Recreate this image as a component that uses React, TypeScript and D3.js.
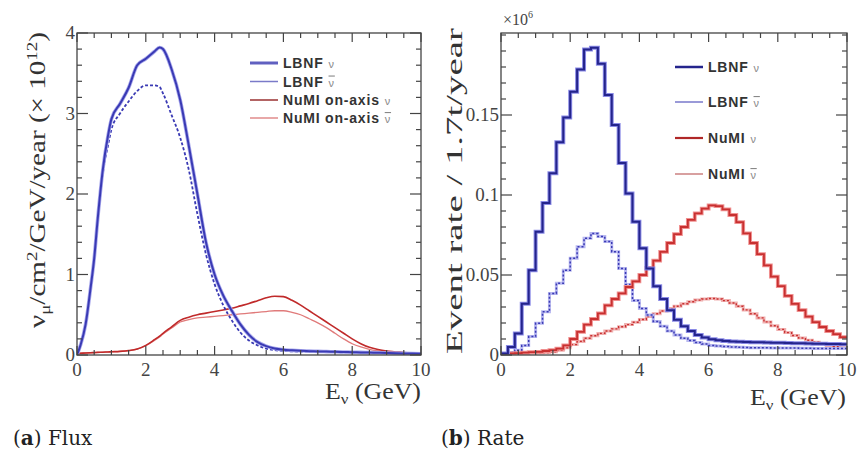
import React from "react";
import * as d3 from "d3";

// ---------- Data: (a) Flux ----------
const FLUX_E = [0, 0.1, 0.25, 0.4, 0.5, 0.6, 0.75, 0.9, 1.0, 1.25, 1.5, 1.75, 2.0, 2.25, 2.4, 2.5, 2.75, 3.0, 3.25, 3.5, 3.75, 4.0, 4.25, 4.5, 4.75, 5.0, 5.25, 5.5, 5.75, 6.0, 6.25, 6.5, 6.75, 7.0, 7.25, 7.5, 7.75, 8.0, 8.25, 8.5, 8.75, 9.0, 9.5, 10];
const FLUX_LBNF_NU = [0, 0.12, 0.38, 0.85, 1.2, 1.68, 2.3, 2.72, 2.93, 3.12, 3.32, 3.6, 3.68, 3.77, 3.82, 3.8, 3.55, 3.17, 2.6, 2.0, 1.4, 1.0, 0.74, 0.55, 0.38, 0.25, 0.16, 0.11, 0.08, 0.065, 0.058, 0.052, 0.048, 0.045, 0.042, 0.04, 0.037, 0.035, 0.032, 0.03, 0.028, 0.025, 0.02, 0.015];
const FLUX_LBNF_NUBAR = [0, 0.12, 0.38, 0.85, 1.2, 1.65, 2.25, 2.6, 2.8, 3.0, 3.15, 3.28, 3.35, 3.35, 3.33, 3.25, 2.98, 2.7, 2.3, 1.75, 1.25, 0.88, 0.62, 0.43, 0.28, 0.18, 0.12, 0.08, 0.06, 0.05, 0.045, 0.042, 0.04, 0.038, 0.036, 0.035, 0.034, 0.033, 0.031, 0.03, 0.028, 0.026, 0.022, 0.018];
const FLUX_NUMI_NU = [0.02, 0.022, 0.025, 0.028, 0.03, 0.032, 0.035, 0.038, 0.04, 0.045, 0.055, 0.075, 0.12, 0.19, 0.235, 0.27, 0.35, 0.43, 0.47, 0.5, 0.52, 0.54, 0.56, 0.58, 0.61, 0.64, 0.675, 0.71, 0.73, 0.725, 0.68, 0.62, 0.55, 0.48, 0.41, 0.34, 0.27, 0.2, 0.14, 0.095, 0.068, 0.05, 0.032, 0.02];
const FLUX_NUMI_NUBAR = [0.02, 0.022, 0.025, 0.028, 0.03, 0.032, 0.035, 0.038, 0.04, 0.045, 0.053, 0.072, 0.115, 0.18, 0.225, 0.26, 0.335, 0.41, 0.44, 0.46, 0.47, 0.48, 0.49, 0.5, 0.51, 0.52, 0.53, 0.54, 0.55, 0.55, 0.53, 0.5, 0.45, 0.4, 0.34, 0.27, 0.2, 0.14, 0.1, 0.07, 0.05, 0.04, 0.03, 0.02];

// ---------- Data: (b) Rate (50 bins of 0.2 GeV, units of 10^6) ----------
const RATE_BIN_WIDTH = 0.2;
const RATE_LBNF_NU = [0.001, 0.005, 0.0135, 0.032, 0.053, 0.077, 0.095, 0.1136, 0.133, 0.1485, 0.1646, 0.1785, 0.191, 0.192, 0.182, 0.1625, 0.1438, 0.12, 0.101, 0.0833, 0.0667, 0.054, 0.043, 0.035, 0.028, 0.022, 0.018, 0.015, 0.0125, 0.011, 0.0098, 0.0092, 0.0088, 0.0085, 0.0083, 0.0081, 0.008, 0.0079, 0.0078, 0.0077, 0.0076, 0.0075, 0.0074, 0.0073, 0.0072, 0.0071, 0.007, 0.0069, 0.0068, 0.0067];
const RATE_LBNF_NUBAR = [0.0005, 0.0015, 0.003, 0.006, 0.0115, 0.0198, 0.027, 0.0385, 0.0448, 0.053, 0.0604, 0.0677, 0.073, 0.076, 0.074, 0.071, 0.0646, 0.054, 0.044, 0.034, 0.029, 0.025, 0.021, 0.018, 0.015, 0.0125, 0.0105, 0.009, 0.0078, 0.0068, 0.006, 0.0056, 0.0053, 0.005, 0.0048, 0.0047, 0.0046, 0.0045, 0.0045, 0.0044, 0.0044, 0.0043, 0.0043, 0.0042, 0.0042, 0.0041, 0.0041, 0.004, 0.004, 0.004];
const RATE_NUMI_NU = [0.0005, 0.001, 0.0012, 0.0015, 0.0018, 0.002, 0.0025, 0.003, 0.004, 0.006, 0.01, 0.0145, 0.019, 0.0225, 0.026, 0.031, 0.035, 0.0385, 0.0425, 0.046, 0.05, 0.0545, 0.059, 0.0645, 0.07, 0.0755, 0.08, 0.0845, 0.0885, 0.0915, 0.0935, 0.093, 0.091, 0.0875, 0.083, 0.076, 0.07, 0.063, 0.056, 0.049, 0.043, 0.037, 0.032, 0.028, 0.024, 0.0205, 0.0175, 0.015, 0.013, 0.0112];
const RATE_NUMI_NUBAR = [0.0003, 0.0006, 0.0008, 0.001, 0.0012, 0.0014, 0.0016, 0.002, 0.003, 0.0045, 0.0065, 0.0085, 0.0105, 0.012, 0.0135, 0.015, 0.0163, 0.0177, 0.019, 0.0205, 0.0222, 0.024, 0.0258, 0.0275, 0.029, 0.0305, 0.032, 0.0333, 0.0343, 0.035, 0.0353, 0.035, 0.034, 0.0325, 0.0305, 0.0282, 0.0258, 0.0232, 0.0207, 0.0183, 0.016, 0.014, 0.0122, 0.0106, 0.0092, 0.008, 0.007, 0.006, 0.0052, 0.0045];

// ---------- Ticks ----------
const X_TICKS = [0, 2, 4, 6, 8, 10];
const FLUX_Y_TICKS = [0, 1, 2, 3, 4];
const RATE_Y_TICKS = [0, 0.05, 0.1, 0.15];
const RATE_Y_LABELS = ["0", "0.05", "0.1", "0.15"];

const SERIF = "'Liberation Serif', 'Times New Roman', serif";
const SANS = "'Liberation Sans', Arial, sans-serif";

type FrameProps = {
  x: d3.ScaleLinear<number, number>;
  y: d3.ScaleLinear<number, number>;
  xMinorStep: number;
  yMinorStep: number;
  yMax: number;
  yTicks: number[];
  yLabels: string[];
};

function Frame({ x, y, xMinorStep, yMinorStep, yMax, yTicks, yLabels }: FrameProps) {
  const [x0, x1] = x.range();
  const [y0, y1] = y.range(); // y0 bottom, y1 top
  const xMinor: number[] = [];
  for (let v = 0; v <= 10 + 1e-9; v += xMinorStep) xMinor.push(v);
  const yMinor: number[] = [];
  for (let v = 0; v <= yMax + 1e-9; v += yMinorStep) yMinor.push(v);
  const isMajorX = (v: number) => X_TICKS.some((t) => Math.abs(t - v) < 1e-6);
  const isMajorY = (v: number) => yTicks.some((t) => Math.abs(t - v) < 1e-6);
  const stroke = "#444";
  return (
    <g>
      <rect x={x0} y={y1} width={x1 - x0} height={y0 - y1} fill="none" stroke={stroke} strokeWidth={1.3} />
      {xMinor.map((v, i) => {
        const len = isMajorX(v) ? 9 : 5;
        const px = x(v);
        return (
          <g key={"xt" + i}>
            <line x1={px} x2={px} y1={y0} y2={y0 - len} stroke={stroke} strokeWidth={1.2} />
            <line x1={px} x2={px} y1={y1} y2={y1 + len} stroke={stroke} strokeWidth={1.2} />
          </g>
        );
      })}
      {yMinor.map((v, i) => {
        const len = isMajorY(v) ? 11 : 5;
        const py = y(v);
        return (
          <g key={"yt" + i}>
            <line x1={x0} x2={x0 + len} y1={py} y2={py} stroke={stroke} strokeWidth={1.2} />
            <line x1={x1} x2={x1 - len} y1={py} y2={py} stroke={stroke} strokeWidth={1.2} />
          </g>
        );
      })}
      {X_TICKS.map((t) => (
        <text key={"xl" + t} x={x(t)} y={y0 + 21} textAnchor="middle" fontFamily={SERIF} fontSize={19} fill="#444">
          {t}
        </text>
      ))}
      {yTicks.map((t, i) => (
        <text key={"yl" + t} x={x0 - 2} y={y(t) + 6} textAnchor="end" fontFamily={SERIF} fontSize={19} fill="#444">
          {yLabels[i]}
        </text>
      ))}
    </g>
  );
}

function Legend({ x, ys, items }: { x: number; ys: number[]; items: { label: string; bar: boolean; stroke: string; width: number; dash?: string }[] }) {
  return (
    <g>
      {items.map((it, i) => (
        <g key={i}>
          <line x1={x} x2={x + 28} y1={ys[i]} y2={ys[i]} stroke={it.stroke} strokeWidth={it.width} strokeDasharray={it.dash} />
          <text x={x + 33} y={ys[i] + 5} fontFamily={SANS} fontWeight="bold" fontSize={14} letterSpacing={0.8} fill="#333">
            {it.label}
            <tspan dx={5} fontWeight="normal" fontSize={11} fill="#888" textDecoration={it.bar ? "overline" : undefined}>ν</tspan>
          </text>
        </g>
      ))}
    </g>
  );
}

function EnergyLabel({ x, y }: { x: number; y: number }) {
  return (
    <text x={x} y={y} textAnchor="end" fontFamily={SERIF} fontSize={23} fill="#333" textLength={96} lengthAdjust="spacingAndGlyphs">
      E<tspan fontSize={15} dy={5}>ν</tspan>
      <tspan dy={-5}> (GeV)</tspan>
    </text>
  );
}

export default function App() {
  // ----- Panel (a) -----
  const xa = d3.scaleLinear().domain([0, 10]).range([77, 421]);
  const ya = d3.scaleLinear().domain([0, 4]).range([355, 33]);
  const fluxLine = (vals: number[]) =>
    d3
      .line<number>()
      .x((_, i) => xa(FLUX_E[i]))
      .y((d) => ya(d))
      .curve(d3.curveMonotoneX)(vals) || "";

  // ----- Panel (b) -----
  const xb = d3.scaleLinear().domain([0, 10]).range([501, 847]);
  const yb = d3.scaleLinear().domain([0, 0.20125]).range([355, 33]);
  const histLine = (vals: number[]) => {
    const pts: [number, number][] = vals.map((v, i) => [i * RATE_BIN_WIDTH, v]);
    pts.push([vals.length * RATE_BIN_WIDTH, vals[vals.length - 1]]);
    return (
      d3
        .line<[number, number]>()
        .x((d) => xb(d[0]))
        .y((d) => yb(d[1]))
        .curve(d3.curveStepAfter)(pts) || ""
    );
  };

  const BLUE = "#3a3ab4";
  const BLUE_DARK = "#24248c";
  const RED = "#c83030";

  return (
    <svg width={859} height={458} style={{ display: "block", position: "absolute", left: 0, top: 0, background: "#fff" }}>
      <defs>
        <clipPath id="clipA">
          <rect x={77} y={33} width={344} height={322} />
        </clipPath>
        <clipPath id="clipB">
          <rect x={501} y={33} width={346} height={322} />
        </clipPath>
      </defs>
      <rect x={0} y={0} width={859} height={458} fill="#fff" />

      {/* ---------- Panel (a) ---------- */}
      <g clipPath="url(#clipA)" fill="none">
        <path d={fluxLine(FLUX_NUMI_NUBAR)} stroke="#e07a7a" strokeWidth={1.3} />
        <path d={fluxLine(FLUX_NUMI_NU)} stroke="#c02a2a" strokeWidth={1.6} />
        <path d={fluxLine(FLUX_LBNF_NUBAR)} stroke={BLUE} strokeWidth={1.8} strokeDasharray="3,2" />
        <path d={fluxLine(FLUX_LBNF_NU)} stroke="#a8a8ec" strokeWidth={3.6} />
        <path d={fluxLine(FLUX_LBNF_NU)} stroke={BLUE} strokeWidth={2} />
      </g>
      <Frame x={xa} y={ya} xMinorStep={0.5} yMinorStep={0.2} yMax={4} yTicks={FLUX_Y_TICKS} yLabels={FLUX_Y_TICKS.map(String)} />
      <Legend
        x={250}
        ys={[63, 81.5, 100, 118]}
        items={[
          { label: "LBNF", bar: false, stroke: "#6060c0", width: 3 },
          { label: "LBNF", bar: true, stroke: "#7a7ac8", width: 1.5 },
          { label: "NuMI on-axis", bar: false, stroke: "#9a3030", width: 1.5 },
          { label: "NuMI on-axis", bar: true, stroke: "#e8a8a8", width: 2 },
        ]}
      />
      <text transform="translate(45,180) rotate(-90)" textAnchor="middle" fontFamily={SERIF} fontSize={23} fill="#333" textLength={296} lengthAdjust="spacingAndGlyphs">
        ν<tspan fontSize={15} dy={5}>μ</tspan>
        <tspan dy={-5}>/cm</tspan>
        <tspan fontSize={15} dy={-8}>2</tspan>
        <tspan dy={8}>/GeV/year (× 10</tspan>
        <tspan fontSize={15} dy={-8}>12</tspan>
        <tspan dy={8}>)</tspan>
      </text>
      <EnergyLabel x={421} y={399} />

      {/* ---------- Panel (b) ---------- */}
      <g clipPath="url(#clipB)" fill="none">
        <path d={histLine(RATE_NUMI_NUBAR)} stroke="#f0b0b0" strokeWidth={3} />
        <path d={histLine(RATE_NUMI_NUBAR)} stroke={RED} strokeWidth={1.4} strokeDasharray="2,2" />
        <path d={histLine(RATE_LBNF_NUBAR)} stroke="#b8b8f0" strokeWidth={3} />
        <path d={histLine(RATE_LBNF_NUBAR)} stroke={BLUE} strokeWidth={1.5} strokeDasharray="2,2" />
        <path d={histLine(RATE_NUMI_NU)} stroke="#f09090" strokeWidth={3.8} />
        <path d={histLine(RATE_NUMI_NU)} stroke={RED} strokeWidth={1.8} />
        <path d={histLine(RATE_LBNF_NU)} stroke="#8a8ae6" strokeWidth={4} />
        <path d={histLine(RATE_LBNF_NU)} stroke={BLUE_DARK} strokeWidth={2} />
      </g>
      <Frame x={xb} y={yb} xMinorStep={0.5} yMinorStep={0.01} yMax={0.2} yTicks={RATE_Y_TICKS} yLabels={RATE_Y_LABELS} />
      <Legend
        x={675}
        ys={[67, 102, 138, 174]}
        items={[
          { label: "LBNF", bar: false, stroke: BLUE_DARK, width: 2.5 },
          { label: "LBNF", bar: true, stroke: "#9a9ad8", width: 2 },
          { label: "NuMI", bar: false, stroke: "#b02828", width: 2.2 },
          { label: "NuMI", bar: true, stroke: "#d8a0a0", width: 2 },
        ]}
      />
      <text x={503} y={25} fontFamily={SERIF} fontSize={16} fill="#444">
        ×10<tspan fontSize={10} dy={-7}>6</tspan>
      </text>
      <text transform="translate(462,191) rotate(-90)" textAnchor="middle" fontFamily={SERIF} fontSize={24} fill="#333" textLength={326} lengthAdjust="spacingAndGlyphs">
        Event rate / 1.7t/year
      </text>
      <EnergyLabel x={846} y={405} />

      {/* ---------- Captions ---------- */}
      <text x={13} y={445} fontFamily="'DejaVu Serif', serif" fontSize={20} fill="#222">
        (<tspan fontWeight="bold">a</tspan>) Flux
      </text>
      <text x={441} y={445} fontFamily="'DejaVu Serif', serif" fontSize={20} fill="#222">
        (<tspan fontWeight="bold">b</tspan>) Rate
      </text>
    </svg>
  );
}
